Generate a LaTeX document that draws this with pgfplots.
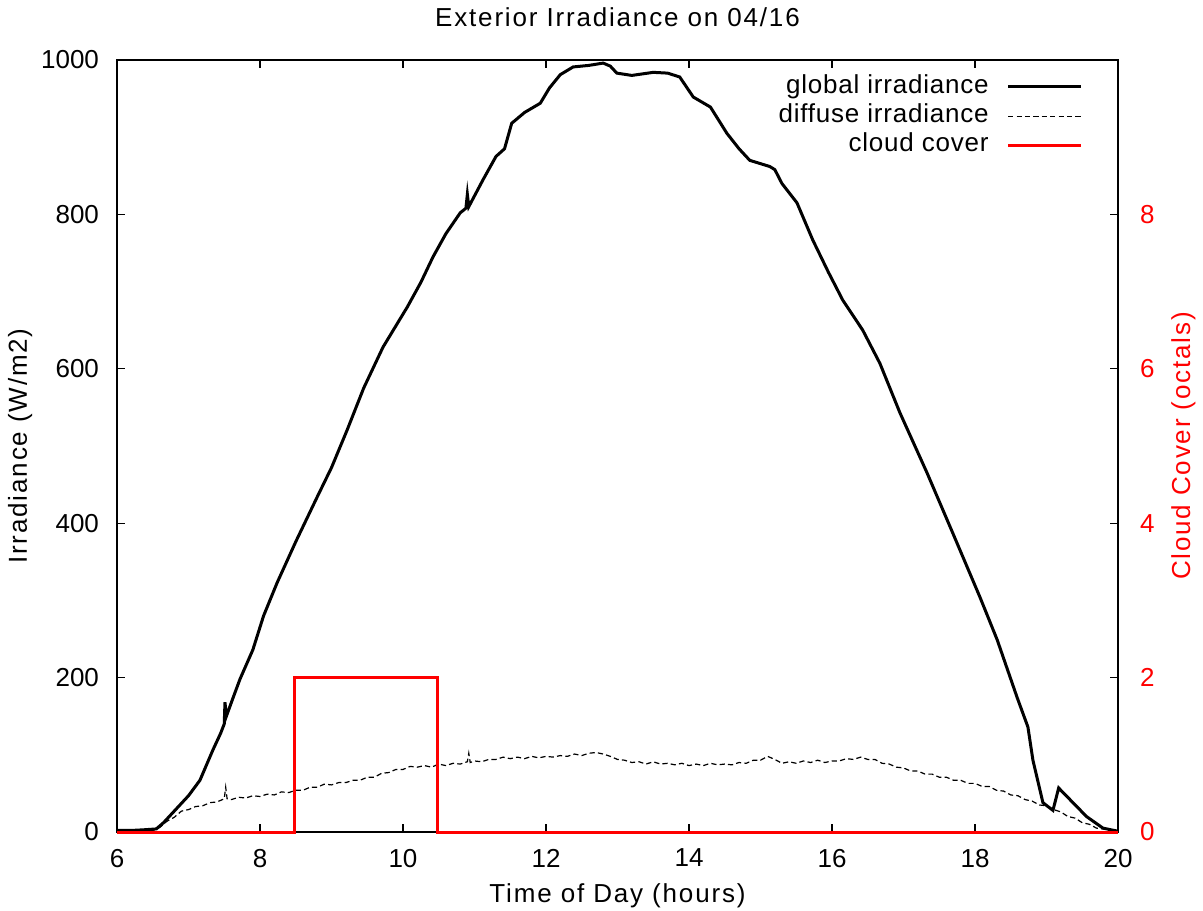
\documentclass[border=0pt]{standalone}
\usepackage{fontspec}
\setmainfont{Liberation Sans}
\newfontfamily\labfont[LetterSpace=7]{Liberation Sans}
\newfontfamily\legfont[LetterSpace=3]{Liberation Sans}
\usepackage{pgfplots}
\pgfplotsset{compat=1.18}

\pgfplotsset{
  irr/.style={
    scale only axis,
    width=500.5pt, height=386pt,
    xmin=6, xmax=20,
    /pgf/number format/assume math mode=true,
    /pgf/number format/1000 sep={},
    tick align=inside,
    major tick length=4pt,
    axis line style={line width=0.6pt},
    every tick/.style={black, line width=0.6pt},
    tick label style={font=\fontsize{13}{15}\selectfont},
  },
}

\begin{document}
\begin{tikzpicture}
\begin{axis}[
  irr,
  name=ax,
  ymin=0, ymax=1000,
  xtick={6,8,...,20},
  ytick={0,200,...,1000},
  ytick pos=left,
  xticklabel style={yshift=-5pt},
  yticklabel style={xshift=-5.5pt},
  xlabel={Time of Day (hours)},
  ylabel={Irradiance (W/m2)},
  title={Exterior Irradiance on 04/16},
  every axis title/.style={at={(axis description cs:0.5,1)}, anchor=base,
    yshift=16.5pt, font=\labfont\fontsize{13}{15}\selectfont},
  every axis x label/.style={at={(axis description cs:0.5,0)}, anchor=base,
    yshift=-35pt, font=\labfont\fontsize{13}{15}\selectfont},
  every axis y label/.style={at={(axis description cs:0,0.5)},
    xshift=-45pt, rotate=90, anchor=base,
    font=\labfont\fontsize{13}{15}\selectfont},
]
% global irradiance
\addplot[black, line width=1.5pt] coordinates {
(6.0,2) (6.2,2) (6.4,3) (6.55,4) (6.65,12) (6.75,22) (6.85,32) (7.0,47)
(7.16,67) (7.34,106) (7.45,128) (7.5,140) (7.51,168) (7.53,150) (7.62,173)
(7.72,198) (7.9,236) (8.05,280) (8.24,323) (8.5,376) (8.8,434) (9.0,472)
(9.22,521) (9.45,575) (9.72,628) (10.06,680) (10.25,712) (10.42,745)
(10.6,775) (10.8,802) (10.88,808) (10.9,826) (10.92,810) (11.12,845)
(11.3,875) (11.42,885) (11.52,918) (11.7,932) (11.92,944) (12.05,964)
(12.2,981) (12.38,991) (12.6,993) (12.8,996) (12.9,992) (12.99,983)
(13.2,980) (13.5,984) (13.7,983) (13.87,978) (14.06,952) (14.3,939)
(14.53,905) (14.7,885) (14.85,870) (15.13,862) (15.2,858) (15.3,840)
(15.51,815) (15.73,767) (15.95,725) (16.15,689) (16.43,650) (16.67,607)
(16.95,543) (17.33,465) (17.69,387) (18.07,304) (18.31,249) (18.59,174)
(18.74,136) (18.81,93) (18.95,38) (19.09,28) (19.17,57) (19.37,38)
(19.56,20) (19.79,5) (20.0,1)
};
% diffuse irradiance
\addplot[black, line width=0.6pt, dash pattern=on 2.6pt off 1.6pt] coordinates {
(6.0,1) (6.3,1) (6.5,2) (6.6,6) (6.7,14) (6.8,19) (6.9,27) (7.0,29)
(7.1,33) (7.2,34) (7.3,38) (7.4,39) (7.5,43) (7.52,58) (7.54,43) (7.6,42)
(7.7,45) (7.8,44) (7.9,47) (8.0,46) (8.1,49) (8.2,48) (8.3,52) (8.4,51)
(8.5,54) (8.6,54) (8.7,58) (8.8,58) (8.9,62) (9.0,61) (9.1,64) (9.2,64)
(9.3,67) (9.4,67) (9.5,71) (9.6,71) (9.7,76) (9.8,77) (9.9,81) (10.0,81)
(10.1,85) (10.2,84) (10.3,86) (10.4,84) (10.5,88) (10.6,86) (10.7,89)
(10.8,88) (10.9,91) (10.92,102) (10.94,90) (11.0,92) (11.1,91) (11.2,94)
(11.3,94) (11.4,97) (11.5,95) (11.6,97) (11.7,95) (11.8,98) (11.9,96)
(12.0,98) (12.1,97) (12.2,99) (12.3,98) (12.4,101) (12.5,99) (12.6,102)
(12.7,103) (12.8,101) (12.9,98) (13.0,94) (13.1,93) (13.2,90) (13.3,91)
(13.4,88) (13.5,91) (13.6,88) (13.7,89) (13.8,87) (13.9,89) (14.0,86)
(14.1,88) (14.2,86) (14.3,89) (14.4,87) (14.5,88) (14.6,87) (14.7,90)
(14.8,89) (14.9,93) (15.0,93) (15.1,98) (15.2,94) (15.3,89) (15.4,91)
(15.5,89) (15.6,92) (15.7,90) (15.8,93) (15.9,90) (16.0,92) (16.1,92)
(16.2,95) (16.3,94) (16.4,97) (16.5,94) (16.6,94) (16.7,89) (16.8,88)
(16.9,84) (17.0,83) (17.1,79) (17.2,79) (17.3,75) (17.4,75) (17.5,71)
(17.6,71) (17.7,67) (17.8,67) (17.9,63) (18.0,63) (18.1,59) (18.2,59)
(18.3,54) (18.4,53) (18.5,48) (18.6,47) (18.7,42) (18.8,40) (18.9,35)
(19.0,34) (19.1,29) (19.2,26) (19.3,20) (19.4,18) (19.5,12) (19.6,10)
(19.7,5) (19.8,4) (19.9,2) (20.0,1)
};
\end{axis}
\begin{axis}[
  irr,
  ymin=0, ymax=10,
  axis x line=none,
  axis y line*=right,
  ytick={0,2,4,6,8},
  yticklabel style={red, xshift=7.5pt},
  ylabel={Cloud Cover (octals)},
  every axis y label/.style={at={(axis description cs:1,0.5)},
    xshift=36pt, rotate=90, anchor=base, red,
    font=\labfont\fontsize{13}{15}\selectfont},
  clip=false,
  legend plot pos=right,
  legend cell align=right,
  legend image code/.code={\draw[#1] (0cm,0cm) -- (36.5pt,0cm);},
  legend style={draw=none, fill=none, inner sep=0pt,
    at={(axis description cs:1,1)}, anchor=north east,
    xshift=-17.5pt, yshift=-6pt, row sep=0pt,
    font=\legfont\fontsize{13}{15}\selectfont,
    nodes={inner ysep=1pt, inner xsep=0pt, text height=9.6pt, text depth=3pt},
    /tikz/every odd column/.append style={column sep=9pt}},
]
\addlegendimage{black, line width=1.5pt}
\addlegendentry{global irradiance}
\addlegendimage{black, line width=0.6pt, dash pattern=on 2.6pt off 1.6pt}
\addlegendentry{diffuse irradiance}
\addplot[red, line width=1.5pt] coordinates {
(6,0) (8.48,0) (8.48,2) (10.48,2) (10.48,0) (20,0)
};
\addlegendentry{cloud cover}
\end{axis}
\pgfresetboundingbox
\path[use as bounding box] ([xshift=-58.5pt, yshift=-39pt]ax.south west)
  rectangle ++(601.5pt,455pt);
\end{tikzpicture}
\end{document}
